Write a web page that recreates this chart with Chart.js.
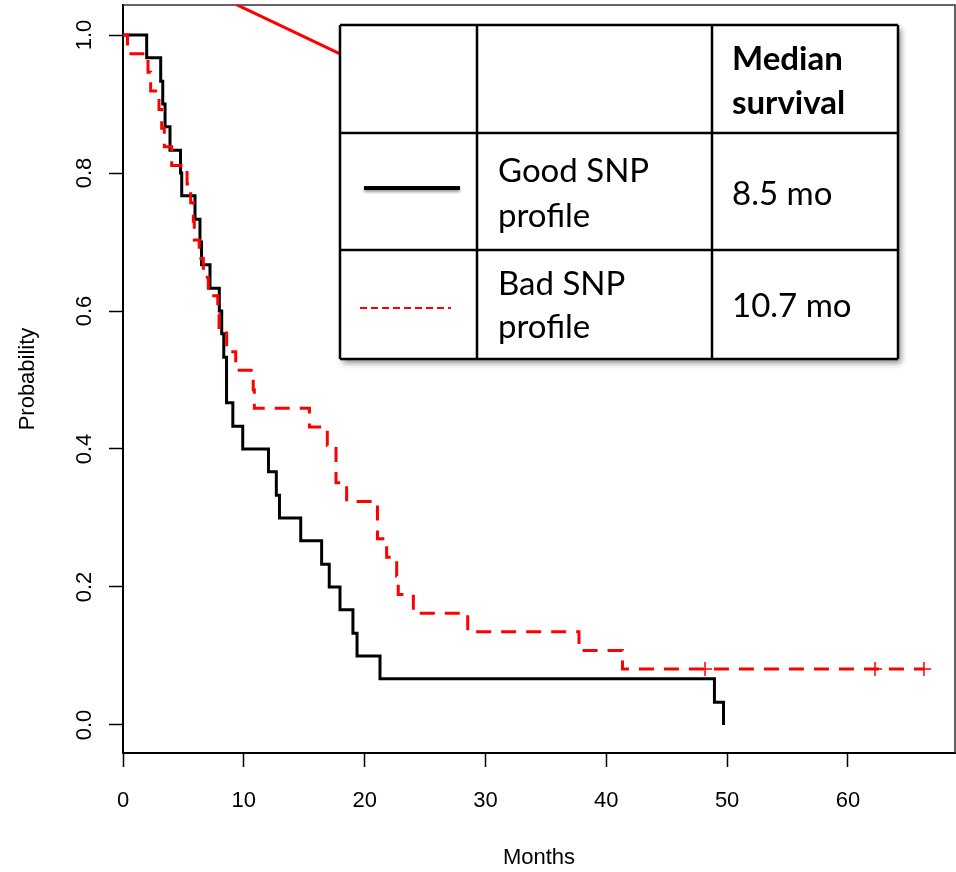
<!DOCTYPE html>
<html>
<head>
<meta charset="utf-8">
<title>Survival by SNP profile</title>
<script src="https://cdn.jsdelivr.net/npm/chart.js@4.4.1/dist/chart.umd.min.js"></script>
<style>
    html, body { margin: 0; padding: 0; background: #fff; }
    #wrap { width: 956px; height: 872px; }
</style>
</head>
<body>
<div id="wrap"><canvas id="kmChart" width="956" height="872"></canvas></div>
<script>
// Kaplan-Meier curves
// ==========================================================

// Good SNP profile (solid black)
const goodTimes = [0, 1.96, 3.12, 3.29, 3.48, 3.89, 4.76, 4.86, 5.96, 6.37,
                   6.50, 7.20, 7.97, 8.17, 8.34, 8.57, 9.09, 9.91, 12.04, 12.69,
                   12.95, 14.71, 16.44, 17.07, 17.96, 19.03, 19.37, 21.27, 48.95, 49.70];
const goodSurv = [1.0, 0.967, 0.933, 0.900, 0.867, 0.833, 0.800, 0.767, 0.733, 0.700,
                  0.667, 0.633, 0.600, 0.567, 0.533, 0.467, 0.433, 0.400, 0.367, 0.333,
                  0.300, 0.267, 0.233, 0.200, 0.167, 0.133, 0.100, 0.067, 0.033, 0.0];

// Bad SNP profile (dashed red)
const badTimes = [0, 0.37, 2.07, 2.29, 2.98, 3.20, 3.42, 4.03, 5.30, 5.60,
                  5.82, 5.90, 6.31, 6.65, 7.06, 7.84, 7.95, 8.58, 9.33, 10.78,
                  10.87, 15.43, 16.91, 17.63, 18.51, 21.06, 21.82, 22.65, 22.78, 24.03,
                  28.53, 37.74, 41.34, 66.29];
const badSurv = [1.0, 0.973, 0.946, 0.919, 0.892, 0.865, 0.838, 0.811, 0.784, 0.757,
                 0.730, 0.703, 0.676, 0.649, 0.622, 0.595, 0.568, 0.541, 0.514, 0.486,
                 0.459, 0.432, 0.405, 0.351, 0.324, 0.270, 0.243, 0.216, 0.189, 0.162,
                 0.135, 0.108, 0.081, 0.081];

// censored patients on the red curve
const badCensorTimes = [48.17, 62.24, 66.29];
const badCensorSurv = [0.081, 0.081, 0.081];

// red pointer line running from the top of the plot to the table
const pointerX = [6.4, 18.4];
const pointerY = [1.069, 0.969];

// axes
const xTickValues = [0, 10, 20, 30, 40, 50, 60];
const xTickLabels = ['0', '10', '20', '30', '40', '50', '60'];
const yTickValues = [0, 0.2, 0.4, 0.6, 0.8, 1.0];
const yTickLabels = ['0.0', '0.2', '0.4', '0.6', '0.8', '1.0'];
const xRange = [0, 68.86];
const yRange = [-0.0406, 1.0435];

// table text
const tableHeader = ['Median', 'survival'];
const groupNames = [['Good SNP', 'profile'], ['Bad SNP', 'profile']];
const groupMedians = ['8.5 mo', '10.7 mo'];

const toPoints = (xs, ys) => xs.map((x, i) => ({ x: x, y: ys[i] }));

const AXIS_FONT = '"Liberation Sans", Arial, Helvetica, sans-serif';
const TABLE_FONT = 'Lato, "Open Sans", sans-serif';

// keep the plot box where the original has it (no label overhang padding)
function noOverhang(s) {
    s.paddingTop = 0;
    s.paddingBottom = 0;
    s.paddingLeft = 0;
    s.paddingRight = 0;
}

// Frame: top and right edges of the plot box
const framePlugin = {
    id: 'plotFrame',
    beforeDatasetsDraw(chart) {
        const { ctx, chartArea: a } = chart;
        ctx.save();
        ctx.strokeStyle = '#333';
        ctx.lineWidth = 1.5;
        ctx.beginPath();
        ctx.moveTo(a.left, a.top);
        ctx.lineTo(a.right, a.top);
        ctx.lineTo(a.right, a.bottom);
        ctx.stroke();
        ctx.restore();
    }
};

// Median survival table drawn over the chart
const tablePlugin = {
    id: 'medianTable',
    afterDraw(chart) {
        const ctx = chart.ctx;
        const cols = [340, 477, 712, 898];
        const rows = [25, 133, 250, 359];

        ctx.save();
        ctx.shadowColor = 'rgba(0,0,0,0.45)';
        ctx.shadowBlur = 6;
        ctx.shadowOffsetX = 3;
        ctx.shadowOffsetY = 4;
        ctx.fillStyle = '#fff';
        ctx.fillRect(cols[0], rows[0], cols[3] - cols[0], rows[3] - rows[0]);
        ctx.restore();

        ctx.save();
        ctx.strokeStyle = '#000';
        ctx.lineWidth = 2.5;
        ctx.beginPath();
        cols.forEach(c => { ctx.moveTo(c, rows[0]); ctx.lineTo(c, rows[3]); });
        rows.forEach(r => { ctx.moveTo(cols[0], r); ctx.lineTo(cols[3], r); });
        ctx.stroke();

        // legend samples
        ctx.save();
        ctx.shadowColor = 'rgba(0,0,0,0.4)';
        ctx.shadowBlur = 3;
        ctx.shadowOffsetY = 2;
        ctx.lineWidth = 4;
        ctx.strokeStyle = '#000';
        ctx.beginPath();
        ctx.moveTo(364, 188);
        ctx.lineTo(460, 188);
        ctx.stroke();
        ctx.restore();

        ctx.lineWidth = 2;
        ctx.strokeStyle = '#ff0000';
        ctx.setLineDash([7, 4]);
        ctx.beginPath();
        ctx.moveTo(360, 308);
        ctx.lineTo(451, 308);
        ctx.stroke();
        ctx.setLineDash([]);

        // text
        ctx.fillStyle = '#000';
        ctx.textAlign = 'left';
        ctx.textBaseline = 'alphabetic';
        ctx.font = 'bold 33px ' + TABLE_FONT;
        ctx.fillText(tableHeader[0], 732, 70);
        ctx.fillText(tableHeader[1], 732, 114);

        ctx.font = '33px ' + TABLE_FONT;
        ctx.fillText(groupNames[0][0], 498, 182);
        ctx.fillText(groupNames[0][1], 498, 227);
        ctx.fillText(groupMedians[0], 732, 205);
        ctx.fillText(groupNames[1][0], 498, 295);
        ctx.fillText(groupNames[1][1], 498, 338);
        ctx.fillText(groupMedians[1], 732, 317);
        ctx.restore();
    }
};

const ctx = document.getElementById('kmChart').getContext('2d');
const chart = new Chart(ctx, {
    type: 'line',
    data: {
        datasets: [
            {
                label: 'Censored',
                data: toPoints(badCensorTimes, badCensorSurv),
                showLine: false,
                pointStyle: 'cross',
                pointRadius: 7,
                borderColor: '#ff0000',
                borderWidth: 1.5
            },
            {
                label: 'Bad SNP profile',
                data: toPoints(badTimes, badSurv),
                stepped: 'before',
                borderColor: '#ff0000',
                borderWidth: 3,
                borderDash: [15, 10],
                borderCapStyle: 'butt',
                borderJoinStyle: 'miter',
                pointRadius: 0,
                fill: false
            },
            {
                label: 'Good SNP profile',
                data: toPoints(goodTimes, goodSurv),
                stepped: 'before',
                borderColor: '#000',
                borderWidth: 3,
                borderJoinStyle: 'miter',
                pointRadius: 0,
                fill: false
            },
            {
                label: 'pointer',
                data: toPoints(pointerX, pointerY),
                borderColor: '#ff0000',
                borderWidth: 3,
                pointRadius: 0,
                fill: false
            }
        ]
    },
    options: {
        responsive: false,
        animation: false,
        events: [],
        layout: { autoPadding: false, padding: { top: 5, right: 1, left: 0, bottom: 0 } },
        plugins: {
            legend: { display: false },
            tooltip: { enabled: false }
        },
        scales: {
            x: {
                type: 'linear',
                min: xRange[0],
                max: xRange[1],
                afterFit: s => { s.height = 119; noOverhang(s); },
                afterBuildTicks: s => { s.ticks = xTickValues.map(v => ({ value: v })); },
                border: { display: true, color: '#000', width: 2 },
                grid: { drawOnChartArea: false, drawTicks: true, tickLength: 14, color: '#000', tickColor: '#000', tickWidth: 1.5 },
                ticks: {
                    padding: 21,
                    color: '#000',
                    font: { family: AXIS_FONT, size: 22 },
                    maxRotation: 0,
                    callback: (v, i) => xTickLabels[i]
                },
                title: {
                    display: true,
                    text: 'Months',
                    color: '#000',
                    font: { family: AXIS_FONT, size: 22 },
                    padding: { top: 0, bottom: 1 }
                }
            },
            y: {
                type: 'linear',
                min: yRange[0],
                max: yRange[1],
                afterFit: s => { s.width = 123; noOverhang(s); },
                afterBuildTicks: s => { s.ticks = yTickValues.map(v => ({ value: v })); },
                border: { display: true, color: '#000', width: 2 },
                grid: { drawOnChartArea: false, drawTicks: true, tickLength: 14, color: '#000', tickColor: '#000', tickWidth: 1.5 },
                ticks: {
                    padding: 9,
                    color: '#000',
                    minRotation: 90,
                    maxRotation: 90,
                    crossAlign: 'center',
                    font: { family: AXIS_FONT, size: 22 },
                    callback: (v, i) => yTickLabels[i]
                },
                title: {
                    display: true,
                    text: 'Probability',
                    color: '#000',
                    font: { family: AXIS_FONT, size: 22 },
                    padding: { top: 15, bottom: 0 }
                }
            }
        }
    },
    plugins: [framePlugin, tablePlugin]
});
</script>
</body>
</html>
